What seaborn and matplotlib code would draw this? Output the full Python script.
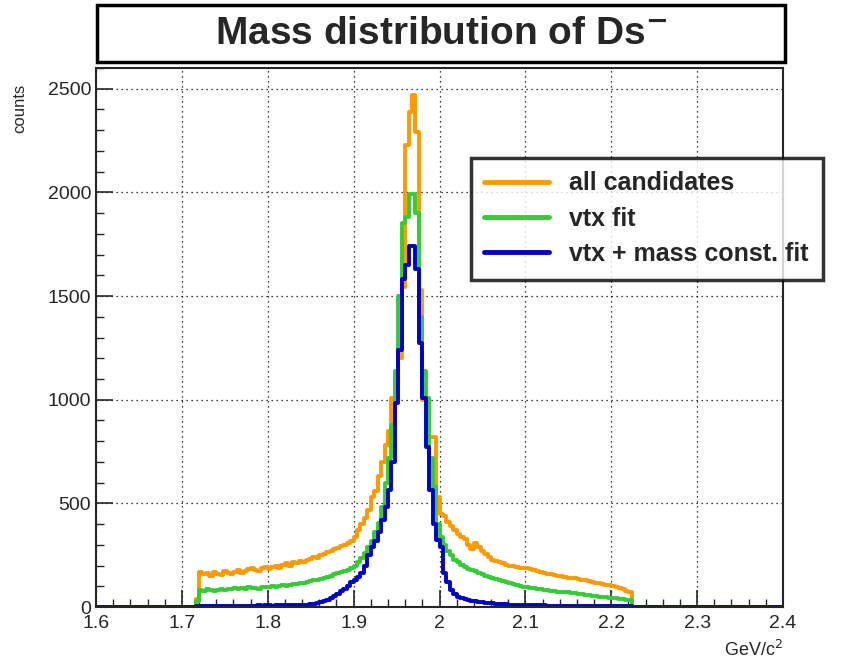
import matplotlib
matplotlib.use("Agg")
import matplotlib.pyplot as plt
import numpy as np
import pandas as pd
import seaborn as sns
from matplotlib.ticker import MultipleLocator
from matplotlib.patches import Rectangle

# histogram: 200 bins from 1.6 to 2.4 GeV/c^2, data filled from 1.716
x_lo, x_hi, n_bins = 1.6, 2.4, 200
first_bin = 1.716

all_cand = [40,
    170,160,165,150,170,160,155,175,165,160,
    170,180,165,175,185,190,180,175,190,195,
    185,195,200,190,205,210,200,215,210,220,
    215,225,230,240,235,250,255,265,270,280,
    285,295,300,310,320,
    340,370,400,430,470,
    530,560,630,700,780,
    850,1010,1100,1200,1545,
    2230,2390,2470,2290,1530,1000,1000,820,820,530,
    450,440,410,390,370,350,340,330,300,280,
    310,290,270,255,240,
    225,220,215,210,205,200,200,195,190,190,
    188,185,180,175,170,165,160,158,155,150,148,145,
    142,140,138,135,130,128,125,120,118,115,112,108,105,
    100,95,90,85,78,70]

vtx_fit = [30,
    80,75,85,80,78,82,85,80,88,85,
    90,85,92,88,95,90,93,88,95,97,
    95,100,98,102,105,100,108,110,112,115,
    118,120,125,128,130,135,140,145,150,160,
    165,170,175,180,190,
    200,215,235,260,290,
    320,360,405,480,600,
    720,880,1140,1500,1850,
    1880,1990,1990,1900,1400,1140,1010,720,580,400,
    340,300,270,250,225,215,205,195,185,180,
    175,165,160,150,145,
    140,135,130,125,120,115,110,105,100,97,
    95,92,90,88,85,82,80,78,76,74,72,72,
    70,68,66,64,62,60,58,55,52,50,48,47,45,
    44,42,40,38,35,33]

vtx_mass = [3,
    5,4,6,5,5,6,5,4,6,5,
    6,5,6,7,6,7,6,8,7,8,
    8,7,9,8,9,10,9,10,11,10,
    11,12,14,16,18,22,28,35,45,55,
    65,75,85,100,120,
    130,145,165,200,250,
    290,320,360,420,480,
    565,700,985,1240,1580,
    1650,1740,1740,1630,1275,1010,770,565,400,325,
    290,165,120,80,65,50,45,40,35,30,
    28,25,22,20,20,
    18,16,15,14,13,12,12,11,10,10,
    10,9,9,8,8,8,7,7,7,6,6,6,
    6,6,5,5,5,5,5,4,4,4,4,4,4,
    4,4,3,3,3,3]

labels = ["all candidates", "vtx fit", "vtx + mass const. fit"]
colors = ["#ff9900", "#33cc33", "#0000cc"]

edges = np.linspace(x_lo, x_hi, n_bins + 1)
start = int(round((first_bin - x_lo) / 0.004))

def full_hist(vals):
    h = np.zeros(n_bins)
    h[start:start + len(vals)] = vals
    return np.append(h, h[-1])

frames = []
for lab, vals in zip(labels, [all_cand, vtx_fit, vtx_mass]):
    frames.append(pd.DataFrame({"mass": edges, "counts": full_hist(vals), "sample": lab}))
df = pd.concat(frames)

sns.set_style("ticks")
plt.rcParams["font.family"] = ["Liberation Sans", "DejaVu Sans"]

fig = plt.figure(figsize=(8.63, 6.62), dpi=100)
ax = fig.add_axes([96/863, 55/662, 687/863, 539/662])

sns.lineplot(data=df, x="mass", y="counts", hue="sample", palette=colors,
             drawstyle="steps-post", linewidth=2.8, ax=ax, legend=False, estimator=None)

ax.set_xlim(x_lo, x_hi)
ax.set_ylim(0, 2600)
ax.xaxis.set_major_locator(MultipleLocator(0.1))
ax.xaxis.set_minor_locator(MultipleLocator(0.02))
ax.yaxis.set_major_locator(MultipleLocator(500))
ax.yaxis.set_minor_locator(MultipleLocator(100))
ax.tick_params(which="both", direction="in", top=False, right=False, labelsize=14)
ax.tick_params(which="major", length=12, width=1.2)
ax.tick_params(which="minor", length=6, width=1)
ax.tick_params(axis="x", pad=6)
ax.grid(True, which="major", linestyle=(0, (1, 3)), color="black", linewidth=0.9)
for s in ax.spines.values():
    s.set_linewidth(1.5)
ax.set_xlabel("")
ax.set_ylabel("")
ax.xaxis.set_major_formatter(matplotlib.ticker.FuncFormatter(lambda v, p: f"{v:g}"))

fig.text(20/863, 1 - 108/662, "counts", rotation=90, ha="center", va="center", fontsize=12)
fig.text(783/863, 1 - 650/662, "GeV/c$^{2}$", ha="right", va="center", fontsize=13)

# title box
fig.patches.append(Rectangle((97/863, 1 - 62/662), 688/863, 57/662, transform=fig.transFigure,
                             facecolor="white", edgecolor="black", linewidth=2.5))
fig.text(441/863, 1 - 34/662, "Mass distribution of Ds$^{\\mathbf{-}}$", ha="center", va="center",
         fontsize=28, fontweight="bold")

handles = [plt.Line2D([], [], color=c, linewidth=3.5) for c in colors]
leg = fig.legend(handles, labels, loc="upper left", bbox_to_anchor=(458/863, 1 - 145/662),
                 frameon=True, fancybox=False, prop={"weight": "bold", "size": 18},
                 handlelength=2.6, borderpad=0.55, labelspacing=0.45)
leg.get_frame().set_edgecolor("black")
leg.get_frame().set_linewidth(2.5)

fig.savefig("out.png", dpi=100)
